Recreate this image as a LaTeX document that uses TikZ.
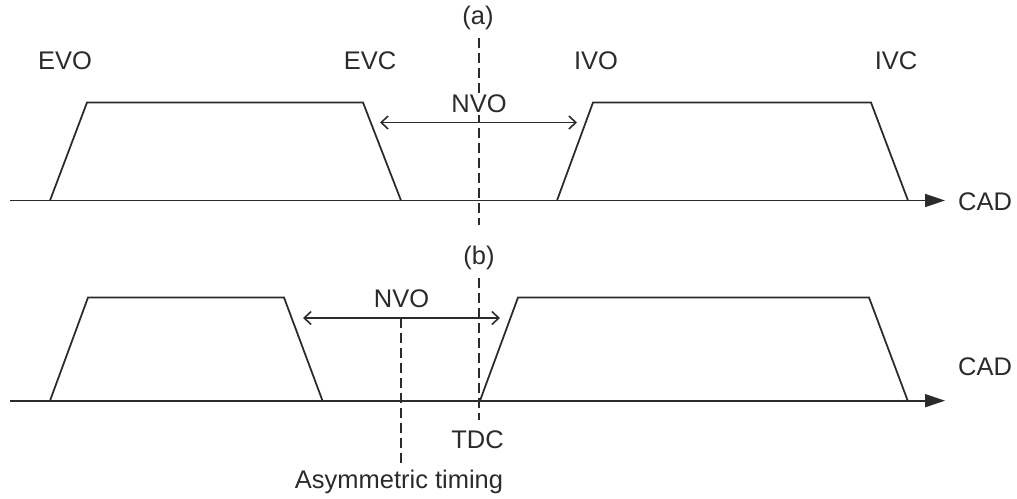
\documentclass[tikz,border=0pt]{standalone}
\usepackage{fontspec}
\setmainfont{Liberation Sans}
\usetikzlibrary{arrows.meta,positioning}
\definecolor{inkgrey}{HTML}{2B2B2B}

\begin{document}
\begin{tikzpicture}[x=0.02cm,y=-0.02cm,
  lbl/.style={inner sep=0pt,anchor=base,font=\fontsize{14.5}{17}\selectfont,text=inkgrey},
  valve/.style={draw=inkgrey,line width=1pt},
  axis/.style={draw=inkgrey,line width=1pt,-{Triangle[length=4mm,width=2.6mm]}},
  span/.style={draw=inkgrey,line width=0.9pt,{Straight Barb[length=1.4mm,width=2.6mm]}-{Straight Barb[length=1.4mm,width=2.6mm]}},
  tdcline/.style={draw=inkgrey,line width=1pt,dash pattern=on 0.2cm off 0.1cm}]
  \useasboundingbox (0,0) rectangle (1017,499);
  % (a) symmetric NVO
  \node[lbl] (taga) at (478,25) {(a)};
  \node[lbl] (evo) at (65,70) {EVO}; \node[lbl] (evc) at (370,70) {EVC};
  \node[lbl] (ivo) at (596,70) {IVO}; \node[lbl] (ivc) at (896,70) {IVC};
  \coordinate (da0) at (479,38); \coordinate (da1) at (479,225);
  \draw[tdcline] (da0) -- (da1);
  \node[lbl,fill=white,inner sep=1pt] (nvoa) at (479,113) {NVO};
  \coordinate (na0) at (380,122.5); \coordinate (na1) at (577,122.5);
  \draw[span] (na0) -- (na1);
  \draw[valve] (50,200.5) -- (87,102.5) -- (363,102.5) -- (401,200.5);
  \draw[valve] (557,200.5) -- (593,102.5) -- (871,102.5) -- (908,200.5);
  \coordinate (xa0) at (10,200.5); \coordinate (xa1) at (945,200.5);
  \draw[axis] (xa0) -- (xa1);
  \node[lbl] (cada) at (985,211) {CAD};
  % (b) asymmetric NVO
  \node[lbl] (tagb) at (479,265) {(b)};
  \node[lbl] (nvob) at (401.5,308) {NVO};
  \coordinate (nb0) at (303,318); \coordinate (nb1) at (500,318);
  \draw[span] (nb0) -- (nb1);
  \coordinate (db0) at (479,278); \coordinate (db1) at (479,420);
  \draw[tdcline] (db0) -- (db1);
  \coordinate (sb0) at (401,318); \coordinate (sb1) at (401,463);
  \draw[tdcline] (sb0) -- (sb1);
  \draw[valve] (50,400.7) -- (88,297.5) -- (284,297.5) -- (322.5,400.7);
  \draw[valve] (480,400.7) -- (518,297.5) -- (869,297.5) -- (907.7,400.7);
  \coordinate (xb0) at (10,400.7); \coordinate (xb1) at (945,400.7);
  \draw[axis] (xb0) -- (xb1);
  \node[lbl] (cadb) at (985,376) {CAD};
  \node[lbl] (tdc) at (477.5,449) {TDC};
  \node[lbl] (asym) at (399,488) {Asymmetric timing};
\end{tikzpicture}
\end{document}
